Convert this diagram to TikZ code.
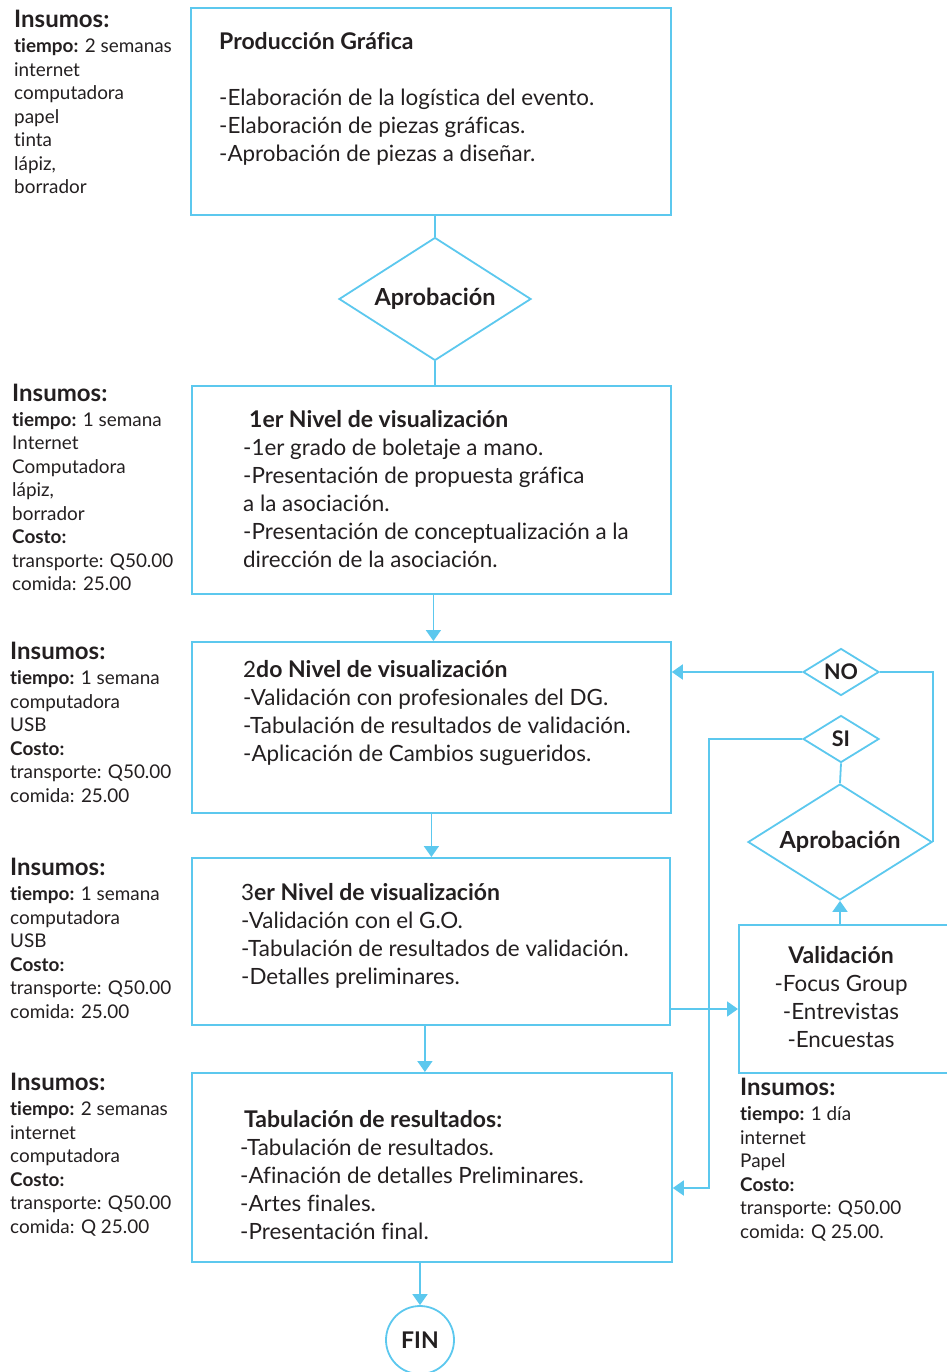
\documentclass[tikz,border=0pt]{standalone}
\usepackage{fontspec}
\setmainfont{Lato}[Ligatures=NoCommon]
\usetikzlibrary{arrows.meta,shapes.geometric}
\definecolor{celeste}{RGB}{92,200,238}
\definecolor{tinta}{RGB}{35,31,32}
\tikzset{%
  >={Triangle[width=15pt,length=11pt]},
  % Especificaciones de estilo de los nodos:
        caja/.style = {rectangle, draw=celeste, line width=1.8pt,
                       anchor=north west, inner sep=0pt},
       texto/.style = {anchor=north west, inner sep=0pt, align=left,
                       text=tinta, font=\fontsize{22.4}{28}\selectfont},
     insumos/.style = {anchor=north west, inner sep=0pt, align=left,
                       text=tinta, font=\fontsize{18.9}{23.5}\selectfont},
    decision/.style = {diamond, draw=celeste, line width=1.8pt, inner sep=0pt,
                       fill=white, text=tinta, font=\fontsize{23.5}{24}\selectfont\bfseries},
       linea/.style = {draw=celeste, line width=1.8pt},
}
\newcommand{\titins}{{\fontsize{24}{23.5}\selectfont\bfseries Insumos:}}
\newcommand{\titcaja}[1]{{\fontsize{23}{28}\selectfont\bfseries #1}}

\begin{document}
\begin{tikzpicture}[x=1pt, y=-1pt]
    \useasboundingbox (0,0) rectangle (946,1372);

    % cajas del proceso
    \node (b1) [caja, minimum width=480, minimum height=207] at (190,7) {};
    \node (b2) [caja, minimum width=479, minimum height=208] at (191,385) {};
    \node (b3) [caja, minimum width=479, minimum height=171] at (191,641) {};
    \node (b4) [caja, minimum width=478, minimum height=167] at (191,857) {};
    \node (b5) [caja, minimum width=480, minimum height=189] at (191,1072) {};
    \node (val) [caja, minimum width=230, minimum height=148] at (738,924) {};

    \node (ap1) [decision, minimum width=192, minimum height=123, aspect=1.56] at (435,299) {Aprobación};
    \node (ap2) [decision, minimum width=184, minimum height=116, aspect=1.58] at (840,842) {Aprobación};
    \node (si) [decision, minimum width=76, minimum height=47, aspect=1.6,
                font=\fontsize{21.5}{24}\selectfont\bfseries] at (841,739) {SI};
    \node (no) [decision, minimum width=76, minimum height=47, aspect=1.6,
                font=\fontsize{21.5}{24}\selectfont\bfseries] at (841,672) {NO};
    \node (fin) [circle, draw=celeste, line width=1.8pt, minimum size=68pt, inner sep=0pt,
                 text=tinta, font=\fontsize{23}{24}\selectfont\bfseries] at (420,1340) {FIN};

    % textos de las cajas
    \node (t1) [texto] at (219,29.5) {\strut\titcaja{Producción Gráfica}\\[28pt]
        -Elaboración de la logística del evento.\\
        -Elaboración de piezas gráficas.\\
        -Aprobación de piezas a diseñar.};
    \node (t2) [texto] at (243,408) {\strut\hspace{6pt}\titcaja{1er Nivel de visualización}\\
        -1er grado de boletaje a mano.\\
        -Presentación de propuesta gráfica\\
        a la asociación.\\
        -Presentación de conceptualización a la\\
        dirección de la asociación.};
    \node (t3) [texto] at (243,658) {\strut 2\titcaja{do Nivel de visualización}\\
        -Validación con profesionales del DG.\\
        -Tabulación de resultados de validación.\\
        -Aplicación de Cambios sugueridos.};
    \node (t4) [texto] at (241,881) {\strut 3\titcaja{er Nivel de visualización}\\
        -Validación con el G.O.\\
        -Tabulación de resultados de validación.\\
        -Detalles preliminares.};
    \node (t5) [texto] at (240,1108) {\strut\hspace{4pt}\titcaja{Tabulación de resultados:}\\
        -Tabulación de resultados.\\
        -Afinación de detalles Preliminares.\\
        -Artes finales.\\
        -Presentación final.};
    \node (t6) [texto, anchor=north, align=center] at (841,944) {\strut\titcaja{Validación}\\
        -Focus Group\\ -Entrevistas\\ -Encuestas};

    % insumos
    \node (s1) [insumos] at (14,10) {\strut\titins\\[1.5pt] \textbf{tiempo:} 2 semanas\\ internet\\
        computadora\\ papel\\ tinta\\ lápiz,\\ borrador};
    \node (s2) [insumos] at (12,384) {\strut\titins\\[1pt] \textbf{tiempo:} 1 semana\\ Internet\\
        Computadora\\ lápiz,\\ borrador\\ \textbf{Costo:}\\ transporte: Q50.00\\ comida: 25.00};
    \node (s3) [insumos] at (10,642) {\strut\titins\\[1.5pt] \textbf{tiempo:} 1 semana\\ computadora\\
        USB\\ \textbf{Costo:}\\ transporte: Q50.00\\ comida: 25.00};
    \node (s4) [insumos] at (10,858) {\strut\titins\\[1.5pt] \textbf{tiempo:} 1 semana\\ computadora\\
        USB\\ \textbf{Costo:}\\ transporte: Q50.00\\ comida: 25.00};
    \node (s5) [insumos] at (10,1073) {\strut\titins\\[1.5pt] \textbf{tiempo:} 2 semanas\\ internet\\
        computadora\\ \textbf{Costo:}\\ transporte: Q50.00\\ comida: Q 25.00};
    \node (s6) [insumos] at (740,1078) {\strut\titins\\[1.5pt] \textbf{tiempo:} 1 día\\ internet\\
        Papel\\ \textbf{Costo:}\\ transporte: Q50.00\\ comida: Q 25.00.};

    % conectores
    \coordinate (sicodo) at (709,1188);
    \coordinate (enval) at (738,1009);

    \draw [linea] (ap1.north |- b1.south) -- (ap1.north);
    \draw [linea] (ap1.south) -- (ap1.south |- b2.north);
    \draw [->, linea] ([xshift=2pt]b2.south) -- ([xshift=2pt]b2.south |- b3.north);
    \draw [->, linea] (b3.south) -- (b3.south |- b4.north);
    \draw [->, linea] ([xshift=-6pt]b4.south) -- ([xshift=-6pt]b4.south |- b5.north);
    \draw [->, linea] (fin.north |- b5.south) -- (fin.north);

    \draw [->, linea] (enval -| b4.east) -- (enval);
    \draw [->, linea] (ap2.south |- val.north) -- (ap2.south);
    \draw [linea] (ap2.north) -- (si.south);
    \draw [linea] (ap2.east) -- (ap2.east |- no.east) -- (no.east);
    \draw [->, linea] (no.west) -- (no.west -| b3.east);
    \draw [->, linea] (si.west) -| (sicodo) -- (sicodo -| b5.east);
\end{tikzpicture}
\end{document}
